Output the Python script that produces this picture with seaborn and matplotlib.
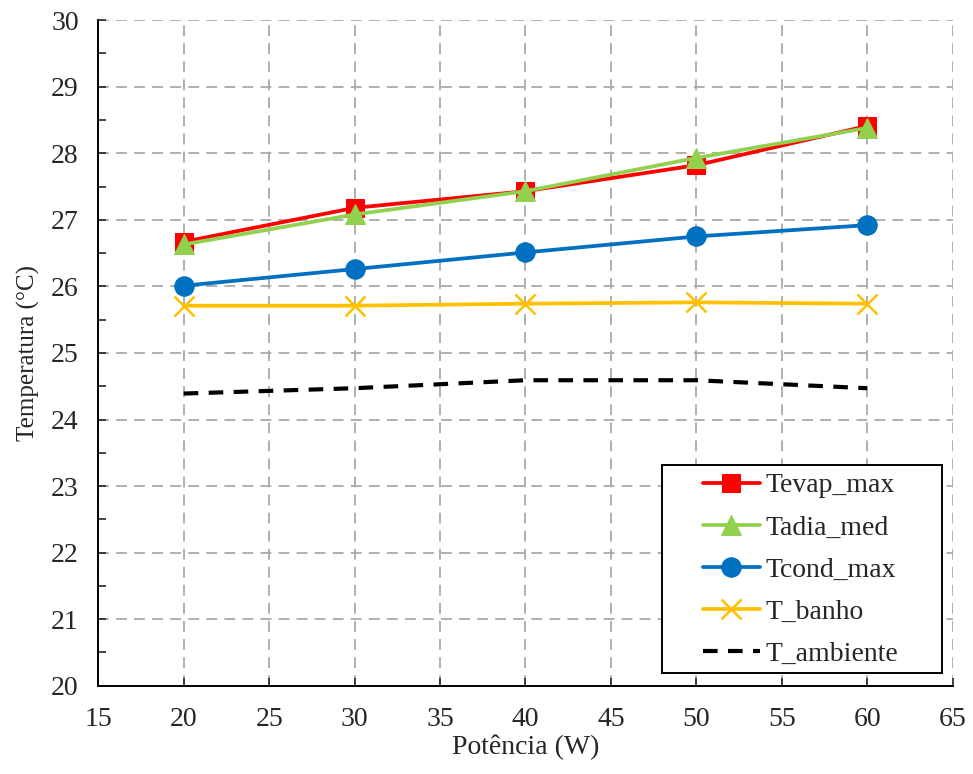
import numpy as np
import pandas as pd
import matplotlib
matplotlib.use("Agg")
import matplotlib.pyplot as plt
from matplotlib.patches import Rectangle
from matplotlib.ticker import MultipleLocator
import seaborn as sns

# ==========================================
# Data
# ==========================================
potencia = [20, 30, 40, 50, 60]
tevap_max = [26.67, 27.18, 27.43, 27.82, 28.41]
tadia_med = [26.63, 27.08, 27.43, 27.93, 28.38]
tcond_max = [26.01, 26.26, 26.51, 26.75, 26.92]
t_banho = [25.71, 25.71, 25.74, 25.76, 25.74]
t_ambiente = [24.39, 24.47, 24.59, 24.59, 24.47]

series = {
    "Tevap_max": tevap_max,
    "Tadia_med": tadia_med,
    "Tcond_max": tcond_max,
    "T_banho": t_banho,
    "T_ambiente": t_ambiente,
}
df = pd.concat(
    [pd.DataFrame({"Potencia": potencia, "Temp": v, "Serie": k}) for k, v in series.items()],
    ignore_index=True,
)

# ==========================================
# Style
# ==========================================
sns.set_style("white")
plt.rcParams['font.family'] = ['Liberation Serif', 'DejaVu Serif']

styles = {
    "Tevap_max": dict(color="#FF0000", marker="s", markersize=13, linestyle="-"),
    "Tadia_med": dict(color="#92D050", marker="^", markersize=14, linestyle="-"),
    "Tcond_max": dict(color="#0070C0", marker="o", markersize=14, linestyle="-"),
    "T_banho": dict(color="#FFC000", marker="x", markersize=14, linestyle="-", markeredgewidth=1.8),
    "T_ambiente": dict(color="black", marker=None, linestyle=(0, (3.5, 2.5)), linewidth=3.0),
}

fig = plt.figure(figsize=(9.73, 7.74), dpi=100)
ax = fig.add_axes([0.101, 0.114, 0.878, 0.860])

for name in series:
    st = dict(styles[name])
    lw = st.pop("linewidth", 2.7)
    sns.lineplot(
        data=df[df["Serie"] == name], x="Potencia", y="Temp",
        ax=ax, label=name, linewidth=lw, markeredgecolor=st["color"], **st
    )

ax.set_xlim(15, 65)
ax.set_ylim(20, 30)
ax.xaxis.set_major_locator(MultipleLocator(5))
ax.yaxis.set_major_locator(MultipleLocator(1))
ax.yaxis.set_minor_locator(MultipleLocator(0.5))
ax.tick_params(axis="both", which="both", direction="in", length=6, width=1.2,
               labelsize=20, pad=15, bottom=True, left=True)
ax.tick_params(axis="y", pad=14)
ax.grid(True, which="major", color="#A9A9A9", linestyle=(0, (6, 4)), linewidth=1.3)
ax.set_axisbelow(True)

for s in ["top", "right"]:
    ax.spines[s].set_visible(False)
for s in ["left", "bottom"]:
    ax.spines[s].set_color("black")
    ax.spines[s].set_linewidth(1.4)

ax.set_xlabel("Potência (W)", fontsize=20, labelpad=2)
ax.set_ylabel("Temperatura (°C)", fontsize=18, labelpad=8)

# legend box (Excel-style, wide padding)
box = Rectangle((0.660, 0.0195), 0.328, 0.3125, transform=ax.transAxes,
                facecolor="white", edgecolor="black", linewidth=1.4, zorder=4.5)
ax.add_patch(box)
leg = ax.legend(loc="center", bbox_to_anchor=(0.822, 0.174), fontsize=20,
                frameon=False, handlelength=2.05, borderpad=0,
                labelspacing=0.6, handletextpad=0.2, borderaxespad=0)
leg.set_zorder(5)

plt.savefig("out.png", dpi=100)
